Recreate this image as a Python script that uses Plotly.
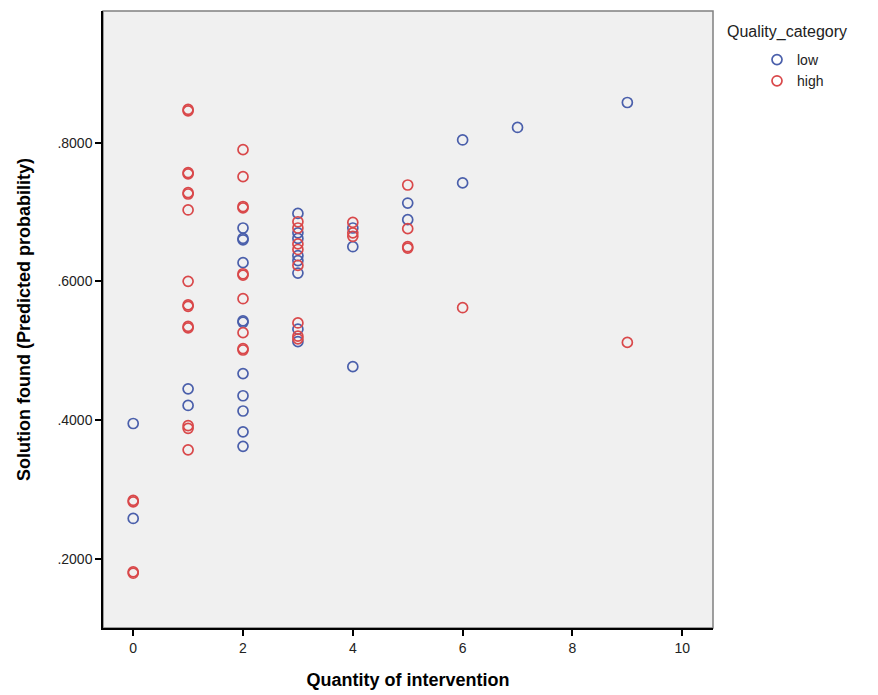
import plotly.graph_objects as go

# ---- data ----
low_x = [0, 0,
         1, 1,
         2, 2, 2, 2, 2, 2, 2, 2, 2, 2, 2,
         3, 3, 3, 3, 3, 3, 3, 3,
         4, 4, 4,
         5, 5,
         6, 6,
         7,
         9]
low_y = [0.395, 0.258,
         0.445, 0.421,
         0.677, 0.662, 0.660, 0.627, 0.543, 0.541, 0.467, 0.435, 0.413, 0.383, 0.362,
         0.698, 0.670, 0.662, 0.637, 0.630, 0.612, 0.531, 0.513,
         0.677, 0.650, 0.477,
         0.713, 0.689,
         0.804, 0.742,
         0.822,
         0.858]

high_x = [0, 0, 0, 0,
          1, 1, 1, 1, 1, 1, 1, 1, 1, 1, 1, 1, 1, 1, 1,
          2, 2, 2, 2, 2, 2, 2, 2, 2, 2,
          3, 3, 3, 3, 3, 3, 3, 3,
          4, 4, 4,
          5, 5, 5, 5,
          6,
          9]
high_y = [0.284, 0.282, 0.181, 0.179,
          0.848, 0.846, 0.757, 0.755, 0.728, 0.726, 0.703, 0.600, 0.566, 0.564,
          0.535, 0.533, 0.392, 0.388, 0.357,
          0.790, 0.751, 0.708, 0.706, 0.611, 0.609, 0.575, 0.526, 0.503, 0.501,
          0.686, 0.677, 0.654, 0.646, 0.623, 0.540, 0.521, 0.517,
          0.685, 0.670, 0.665,
          0.739, 0.676, 0.650, 0.648,
          0.562,
          0.512]

x_ticks = [0, 2, 4, 6, 8, 10]
y_ticks = [0.2, 0.4, 0.6, 0.8]
y_tick_labels = [".2000", ".4000", ".6000", ".8000"]

BLUE = "#4a5fab"
RED = "#d9484a"

fig = go.Figure()
fig.add_trace(go.Scatter(
    x=low_x, y=low_y, mode="markers", name="low",
    marker=dict(symbol="circle-open", size=10, color=BLUE, line=dict(width=1.7, color=BLUE)),
))
fig.add_trace(go.Scatter(
    x=high_x, y=high_y, mode="markers", name="high",
    marker=dict(symbol="circle-open", size=10, color=RED, line=dict(width=1.7, color=RED)),
))

L, R, T, B = 103, 713, 11, 628
W, H = 878, 695
pw = R - L
ph = B - T

fig.update_layout(
    width=W, height=H,
    margin=dict(l=L, r=W - R, t=T, b=H - B, pad=0, autoexpand=False),
    paper_bgcolor="white",
    plot_bgcolor="#f0f0f0",
    font=dict(family="Liberation Sans, Arial, sans-serif", color="#222222", size=14),
    showlegend=True,
    legend=dict(
        x=(757 - L) / pw, y=1 - (44 - T) / ph, xanchor="left", yanchor="top",
        font=dict(size=14, color="#222222"),
        bgcolor="rgba(0,0,0,0)", borderwidth=0,
        tracegroupgap=0, itemwidth=30,
    ),
    annotations=[dict(
        text="Quality_category", xref="paper", yref="paper",
        x=(725 - L) / pw, y=1 - (32 - T) / ph, xanchor="left", yanchor="middle",
        showarrow=False, font=dict(size=16, color="#222222"),
    )],
    shapes=[dict(
        type="rect", xref="paper", yref="paper", x0=0, x1=1, y0=0, y1=1,
        line=dict(color="#808080", width=1.5), layer="below",
    )],
)

fig.update_xaxes(
    automargin=False,
    range=[-0.55, 10.56], tickvals=x_ticks, ticks="outside", ticklen=6, tickwidth=1.5,
    tickcolor="black", showline=True, linecolor="black", linewidth=1.5,
    showgrid=False, zeroline=False, tickfont=dict(size=14, color="#222222"),
    title=dict(text="<b>Quantity of intervention</b>", font=dict(size=18, color="black"), standoff=19),
)
fig.update_yaxes(
    automargin=False,
    range=[0.10, 0.99], tickvals=y_ticks, ticktext=y_tick_labels, ticks="outside",
    ticklen=6, tickwidth=1.5, tickcolor="black", showline=True, linecolor="black",
    linewidth=1.5, showgrid=False, zeroline=False, tickfont=dict(size=14, color="#222222"),
    title=dict(text="<b>Solution found (Predicted probability)</b>", font=dict(size=18, color="black"), standoff=22),
)

fig.write_html("out.html")
